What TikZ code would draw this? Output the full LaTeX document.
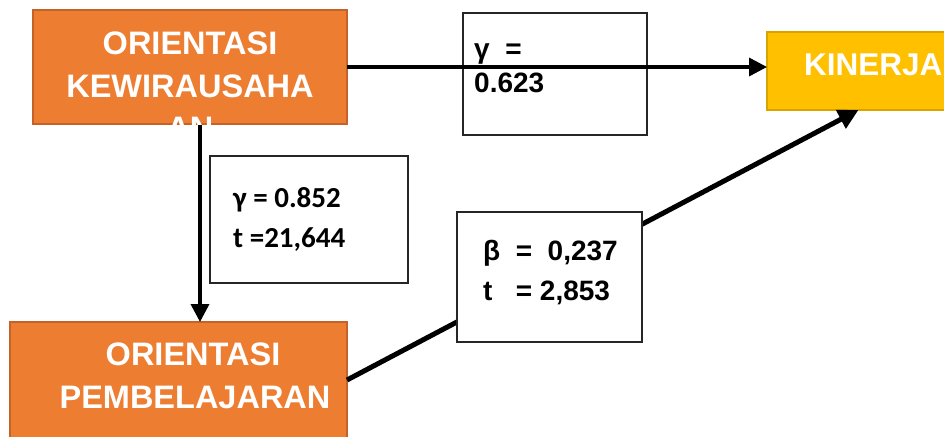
\documentclass[tikz,border=0pt]{standalone}
\usepackage{fontspec}
\setmainfont{Liberation Sans}
\newfontfamily\calfont{Carlito}
\usetikzlibrary{arrows.meta}
\definecolor{orfill}{HTML}{ED7D31}
\definecolor{ordraw}{HTML}{C5622A}
\definecolor{yefill}{HTML}{FFC000}
\definecolor{yedraw}{HTML}{D9A300}
\begin{document}
\begin{tikzpicture}[x=1pt,y=-1pt,
  vbox/.style={rectangle,inner sep=0pt,outer sep=0pt,line width=1.5pt},
  orbox/.style={vbox,draw=ordraw,fill=orfill},
  yebox/.style={vbox,draw=yedraw,fill=yefill},
  valbox/.style={vbox,draw=black!85,fill=white},
  lbl/.style={text=white,font=\bfseries\fontsize{32.5}{32.5}\selectfont,inner sep=0pt,anchor=base},
  vtxt/.style={font=\bfseries\fontsize{28}{28}\selectfont,inner sep=0pt,anchor=base west},
  ctxt/.style={font=\calfont\bfseries\fontsize{29}{29}\selectfont,inner sep=0pt,anchor=base west},
  arr/.style={line width=3.5pt,-{Triangle[length=18pt,width=18pt]}},
  darr/.style={line width=5pt,-{Triangle[length=20pt,width=20pt]}}
]
\useasboundingbox (0,0) rectangle (944,436);
\clip (0,0) rectangle (944,436);
% boxes
\node[orbox,minimum width=314pt,minimum height=114pt] (ok) at (190,67) {};
\node[yebox,minimum width=223pt,minimum height=78pt] (kin) at (878.5,71) {};
\node[orbox,minimum width=337pt,minimum height=148pt] (op) at (178.5,396) {};
\node[valbox,minimum width=184pt,minimum height=122pt] (g1) at (555,74) {};
\node[valbox,minimum width=198pt,minimum height=127pt] (g2) at (309,219.5) {};
% connectors
\draw[arr] (ok.east) -- (ok.east -| kin.west);
\coordinate (vtop) at ([xshift=10pt]ok.south);
\draw[arr] (vtop) -- (vtop |- op.north);
\coordinate (dstart) at ([yshift=16pt]op.east);
\coordinate (dend) at ([xshift=-20pt]kin.south);
\draw[darr] (dstart) -- (dend);
\node[valbox,minimum width=185pt,minimum height=130pt] (g3) at (549.5,277) {};
% labels
\begin{scope}
\clip (ok.north west) rectangle (ok.south east);
\node[lbl] (ok1) at (190,54.5) {ORIENTASI};
\node[lbl] (ok2) at (190,97.5) {KEWIRAUSAHA};
\node[lbl] (ok3) at (190,139) {AN};
\end{scope}
\node[lbl,anchor=base west,font=\bfseries\fontsize{31.5}{31.5}\selectfont] (kint) at (804,75) {KINERJA};
\node[lbl] (op1) at (193,365) {ORIENTASI};
\node[lbl] (op2) at (195,408) {PEMBELAJARAN};
\node[vtxt] (g1a) at (474,59) {γ \ =};
\node[vtxt] (g1b) at (474,92) {0.623};
\node[ctxt] (g2a) at (233,207) {γ = 0.852};
\node[ctxt] (g2b) at (233,247) {t =21,644};
\node[vtxt] (g3a) at (483,260) {β \ = \ 0,237};
\node[vtxt] (g3b) at (483,300) {t \ \ = 2,853};
\end{tikzpicture}
\end{document}
